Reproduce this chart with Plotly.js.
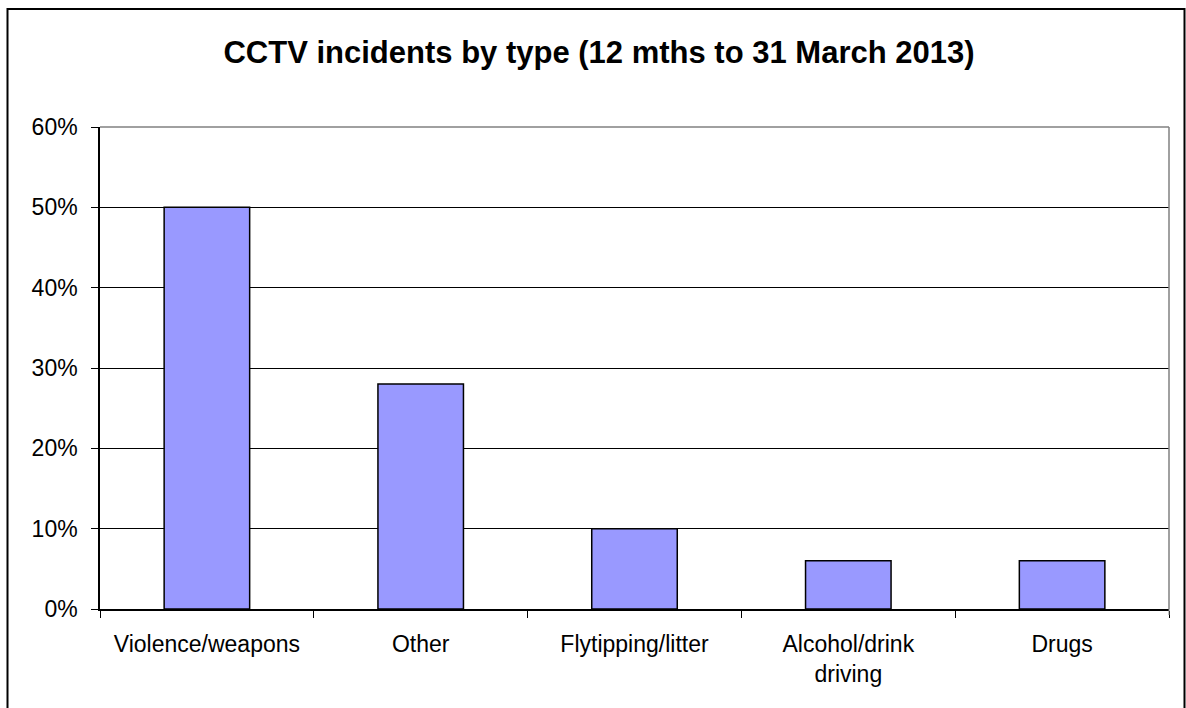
<!DOCTYPE html>
<html>
<head>
<meta charset="utf-8">
<script src="https://cdn.plot.ly/plotly-3.0.1.min.js"></script>
<style>html,body{margin:0;padding:0;background:#fff;}#chart{width:1186px;height:708px;}</style>
</head>
<body>
<div id="chart"></div>
<script>
const categories = ["Violence/weapons", "Other", "Flytipping/litter", "Alcohol/drink<br>driving", "Drugs"];
const shares = [0.50, 0.28, 0.10, 0.06, 0.06];
const yTickValues = [0, 0.1, 0.2, 0.3, 0.4, 0.5, 0.6];
const chartTitle = "CCTV incidents by type (12 mths to 31 March 2013)";

const W = 1186, H = 708;
const M = {l: 100, r: 17, t: 127, b: 99};
const pw = W - M.l - M.r, ph = H - M.t - M.b;
const px = x => (x - M.l) / pw;
const py = y => (H - M.b - y) / ph;

const trace = {
  type: "bar",
  x: categories,
  y: shares,
  marker: {color: "#9999FF", line: {color: "#000000", width: 1.5}},
  hoverinfo: "x+y"
};

const layout = {
  width: W, height: H,
  margin: M,
  paper_bgcolor: "#ffffff",
  plot_bgcolor: "#ffffff",
  font: {family: "Liberation Sans, Arial, sans-serif", color: "#000000"},
  title: {text: "<b>" + chartTitle + "</b>", font: {size: 31, color: "#000"}, x: 599 / W, xref: "container", xanchor: "center", y: 1 - 52 / H, yanchor: "middle"},
  showlegend: false,
  bargap: 0.6,
  xaxis: {
    type: "category",
    showgrid: false,
    showline: true, linecolor: "#000", linewidth: 1.5,
    ticks: "outside", tickson: "boundaries", ticklen: 7, tickcolor: "#000", tickwidth: 1,
    tickfont: {size: 23, color: "#000"},
    ticklabelstandoff: 14,
    fixedrange: true
  },
  yaxis: {
    range: [0, 0.6],
    tickvals: yTickValues,
    tickformat: ".0%",
    showgrid: true, gridcolor: "#000", gridwidth: 1,
    showline: true, linecolor: "#000", linewidth: 1.5,
    ticks: "outside", ticklen: 7, tickcolor: "#000",
    tickfont: {size: 23, color: "#000"},
    ticklabelstandoff: 9,
    zeroline: false,
    fixedrange: true
  },
  shapes: [
    {type: "line", xref: "paper", yref: "paper", x0: 0, x1: 1, y0: 1, y1: 1, line: {color: "#808080", width: 1.5}, layer: "above"},
    {type: "line", xref: "paper", yref: "paper", x0: 1, x1: 1, y0: 0, y1: 1, line: {color: "#808080", width: 1.5}, layer: "above"},
    {type: "line", xref: "paper", yref: "paper", x0: 1, x1: 1, y0: py(615), y1: 0, line: {color: "#808080", width: 1}, layer: "above"},
    {type: "rect", xref: "paper", yref: "paper", x0: px(7.5), x1: px(1184.5), y0: py(9), y1: py(730), line: {color: "#000", width: 2}, fillcolor: "rgba(0,0,0,0)", layer: "below"}
  ]
};

Plotly.newPlot("chart", [trace], layout, {displayModeBar: false, responsive: false});
</script>
</body>
</html>
